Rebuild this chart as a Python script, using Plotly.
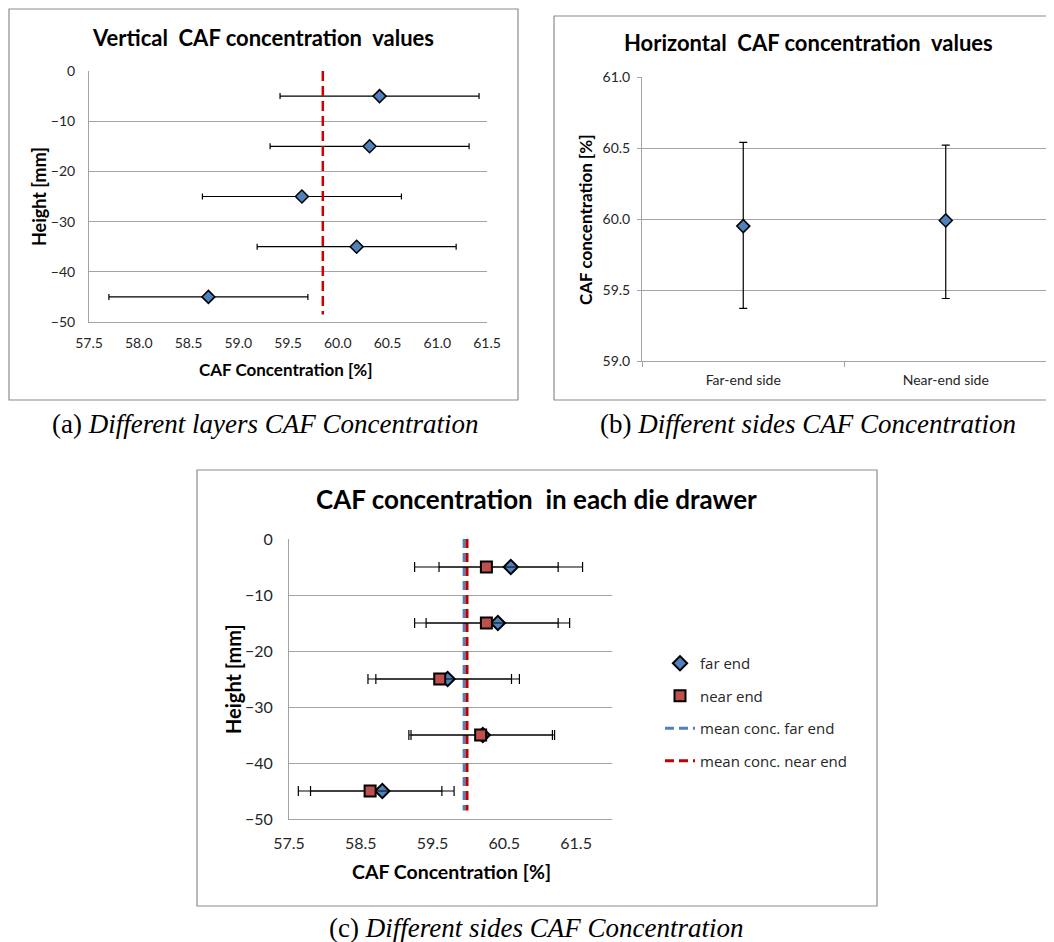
import plotly.graph_objects as go

# ---------------- data ----------------
# (a) vertical CAF concentration values
a_height = [-5, -15, -25, -35, -45]
a_conc = [60.42, 60.32, 59.64, 60.19, 58.70]
a_err = [1.0, 1.0, 1.0, 1.0, 1.0]
a_mean = 59.85
mean_line_heights = [0, -48.5]

# (b) horizontal CAF concentration values
b_sides = ["Far-end side", "Near-end side"]
b_conc = [59.95, 59.99]
b_err_plus = [0.59, 0.53]
b_err_minus = [0.58, 0.55]

# (c) CAF concentration in each die drawer
c_height = [-5, -15, -25, -35, -45]
c_far = [60.59, 60.41, 59.71, 60.20, 58.80]
c_far_err = [1.0, 1.0, 1.0, 1.0, 1.0]
c_near = [60.25, 60.25, 59.60, 60.17, 58.63]
c_near_err = [1.0, 1.0, 1.0, 1.0, 1.0]
c_mean_far = 59.94
c_mean_near = 59.98

x_ticks_a = [57.5, 58.0, 58.5, 59.0, 59.5, 60.0, 60.5, 61.0, 61.5]
x_ticks_c = [57.5, 58.5, 59.5, 60.5, 61.5]

# ---------------- styling ----------------
# The page body has an 8px margin; the figure is sized to fill the rest of the window.
OFF = 8
FW, FH = 1054 - OFF, 942 - OFF
def px(x):
    return (x - OFF) / FW
def py(y):
    return 1 - (y - OFF) / FH

BLUE = "#4F81BD"
RED = "#C0504D"
MEAN_RED = "#D00000"
GRID = "#A3A3A3"
TXT = "#262626"
FONT = "Lato"

fig = go.Figure()

# (a)
fig.add_trace(go.Scatter(
    x=a_conc, y=a_height, mode="markers", xaxis="x", yaxis="y", showlegend=False,
    marker=dict(symbol="diamond", size=10, color=BLUE, line=dict(color="black", width=1.5)),
    error_x=dict(type="data", array=a_err, color="black", thickness=1.2, width=3),
))
fig.add_trace(go.Scatter(
    x=[a_mean] * len(mean_line_heights), y=mean_line_heights, mode="lines",
    xaxis="x", yaxis="y", showlegend=False,
    line=dict(color=MEAN_RED, width=2.5, dash="10px,5px"),
))

# (b)
fig.add_trace(go.Scatter(
    x=b_sides, y=b_conc, mode="markers", xaxis="x2", yaxis="y2", showlegend=False,
    marker=dict(symbol="diamond", size=10, color=BLUE, line=dict(color="black", width=1.5)),
    error_y=dict(type="data", symmetric=False, array=b_err_plus, arrayminus=b_err_minus,
                 color="black", thickness=1.2, width=4),
))

# (c)
fig.add_trace(go.Scatter(
    x=[c_mean_far] * len(mean_line_heights), y=mean_line_heights, mode="lines",
    xaxis="x3", yaxis="y3", name="mean conc. far end", legendgroup="g3", legendrank=3,
    line=dict(color=BLUE, width=3, dash="9px,5px"),
))
fig.add_trace(go.Scatter(
    x=[c_mean_near] * len(mean_line_heights), y=mean_line_heights, mode="lines",
    xaxis="x3", yaxis="y3", name="mean conc. near end", legendgroup="g4", legendrank=4,
    line=dict(color="#C00000", width=3, dash="9px,5px"),
))
fig.add_trace(go.Scatter(
    x=c_far, y=c_height, mode="markers", xaxis="x3", yaxis="y3",
    name="far end", legendgroup="g1", legendrank=1,
    marker=dict(symbol="diamond", size=11, color=BLUE, line=dict(color="black", width=2)),
    error_x=dict(type="data", array=c_far_err, color="black", thickness=1.2, width=5),
))
fig.add_trace(go.Scatter(
    x=c_near, y=c_height, mode="markers", xaxis="x3", yaxis="y3",
    name="near end", legendgroup="g2", legendrank=2,
    marker=dict(symbol="square", size=11, color=RED, line=dict(color="black", width=2)),
    error_x=dict(type="data", array=c_near_err, color="black", thickness=1.2, width=5),
))

tickfont_a = dict(family=FONT, size=14, color=TXT)
tickfont_c = dict(family=FONT, size=16, color=TXT)

common_axis = dict(showgrid=False, zeroline=False, showline=True, linecolor=GRID, linewidth=1,
                   fixedrange=True, automargin=False)

fig.update_layout(
    width=FW, height=FH, autosize=False,
    margin=dict(l=0, r=0, t=0, b=0, pad=0),
    paper_bgcolor="white", plot_bgcolor="white",
    showlegend=True,
    legend=dict(x=px(660), y=py(647), xanchor="left", yanchor="top",
                traceorder="grouped", tracegroupgap=10,
                font=dict(family="Open Sans", size=15, color=TXT),
                bgcolor="rgba(0,0,0,0)"),
    xaxis=dict(common_axis, domain=[px(89), px(487)], anchor="y", range=[57.5, 61.5],
               tickvals=x_ticks_a, tickformat=".1f", tickfont=tickfont_a, ticklabelstandoff=8),
    yaxis=dict(common_axis, domain=[py(322), py(71)], anchor="x", range=[-50, 0], dtick=10,
               showgrid=True, gridcolor=GRID, gridwidth=1, tickfont=tickfont_a,
               ticklabelstandoff=10),
    xaxis2=dict(common_axis, type="category", domain=[px(642), px(1047)], anchor="y2",
                range=[-0.5, 1.5], tickson="boundaries", ticks="outside", ticklen=5,
                tickcolor=GRID, tickfont=dict(family=FONT, size=14, color=TXT),
                ticklabelstandoff=6),
    yaxis2=dict(common_axis, domain=[py(361), py(77)], anchor="x2", range=[59, 61], dtick=0.5,
                tickformat=".1f", showgrid=True, gridcolor=GRID, ticks="outside", ticklen=4,
                tickcolor=GRID, tickfont=tickfont_a, ticklabelstandoff=4),
    xaxis3=dict(common_axis, domain=[px(289), px(612)], anchor="y3", range=[57.5, 62.0],
                tickvals=x_ticks_c, tickformat=".1f", tickfont=tickfont_c, ticklabelstandoff=10),
    yaxis3=dict(common_axis, domain=[py(819), py(539)], anchor="x3", range=[-50, 0], dtick=10,
                showgrid=True, gridcolor=GRID, tickfont=tickfont_c, ticklabelstandoff=12),
)

# frames
frame_line = dict(color="#8C8C8C", width=1.2)
for (x0, y0, x1, y1) in [(7, 9, 518, 400), (554, 16, 1052, 400), (197, 470, 877, 906)]:
    fig.add_shape(type="rect", xref="paper", yref="paper",
                  x0=px(max(x0, OFF + 1)), x1=px(x1), y0=py(y1), y1=py(max(y0, OFF + 1)),
                  line=frame_line, fillcolor="rgba(0,0,0,0)", layer="below")

ann = []
def add_text(text, x, y, size, bold=False, angle=0, family=FONT, color="black"):
    ann.append(dict(text=f"<b>{text}</b>" if bold else text, x=px(x), y=py(y),
                    xref="paper", yref="paper", showarrow=False, textangle=angle,
                    xanchor="center", yanchor="middle",
                    font=dict(family=family, size=size, color=color)))

# titles
add_text("Vertical  CAF concentration  values", 263, 37, 22, bold=True)
add_text("Horizontal  CAF concentration  values", 808, 43, 22, bold=True)
add_text("CAF concentration  in each die drawer", 536, 499, 26, bold=True)
# axis titles
add_text("CAF Concentration [%]", 286, 369, 17, bold=True)
add_text("Height [mm]", 39, 197, 18, bold=True, angle=-90)
add_text("CAF concentration [%]", 586, 220, 17, bold=True, angle=-90)
add_text("CAF Concentration [%]", 451, 871, 19.5, bold=True)
add_text("Height [mm]", 233, 679, 20, bold=True, angle=-90)
# captions
add_text("(a) <i>Different layers CAF Concentration</i>", 265, 424, 27, family="Liberation Serif")
add_text("(b) <i>Different sides CAF Concentration</i>", 808, 424, 27, family="Liberation Serif")
add_text("(c) <i>Different sides CAF Concentration</i>", 536, 928, 27, family="Liberation Serif")

fig.update_layout(annotations=ann)

fig.write_html("out.html", config={"displayModeBar": False})
